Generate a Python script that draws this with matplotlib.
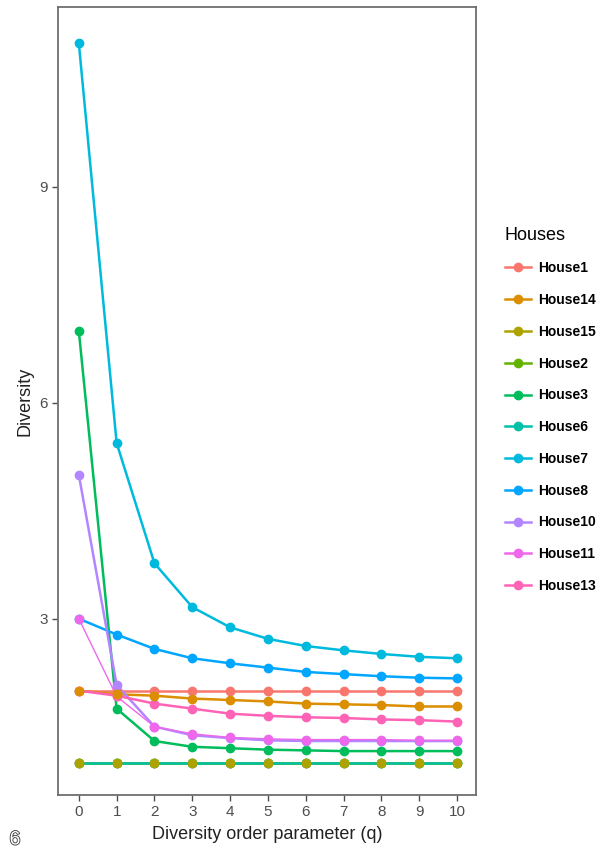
import matplotlib
matplotlib.use("Agg")
import matplotlib.pyplot as plt
from matplotlib.lines import Line2D
import matplotlib.patheffects as pe

plt.rcParams['font.family'] = ['Liberation Sans', 'DejaVu Sans']

q = [0, 1, 2, 3, 4, 5, 6, 7, 8, 9, 10]

houses = ["House1", "House14", "House15", "House2", "House3", "House6",
          "House7", "House8", "House10", "House11", "House13"]
colors = ["#F8766D", "#DB8E00", "#AEA200", "#64B200", "#00BD5C", "#00C1A7",
          "#00BADE", "#00A6FF", "#B385FF", "#EF67EB", "#FF63B6"]

house1 = [2, 2, 2, 2, 2, 2, 2, 2, 2, 2, 2]
house14 = [2, 1.95, 1.93, 1.89, 1.87, 1.85, 1.82, 1.81, 1.80, 1.78, 1.78]
house15 = [1, 1, 1, 1, 1, 1, 1, 1, 1, 1, 1]
house2 = [1, 1, 1, 1, 1, 1, 1, 1, 1, 1, 1]
house3 = [7, 1.75, 1.30, 1.22, 1.20, 1.18, 1.17, 1.16, 1.16, 1.16, 1.16]
house6 = [1, 1, 1, 1, 1, 1, 1, 1, 1, 1, 1]
house7 = [11, 5.44, 3.77, 3.16, 2.88, 2.72, 2.62, 2.56, 2.51, 2.47, 2.45]
house8 = [3, 2.78, 2.58, 2.45, 2.38, 2.32, 2.26, 2.23, 2.20, 2.18, 2.17]
house10 = [5, 2.08, 1.50, 1.38, 1.34, 1.31, 1.30, 1.30, 1.30, 1.30, 1.30]
house11 = [3, 1.92, 1.50, 1.40, 1.35, 1.33, 1.32, 1.32, 1.32, 1.31, 1.31]
house13 = [2, 1.93, 1.82, 1.75, 1.68, 1.65, 1.63, 1.62, 1.60, 1.59, 1.57]

series = [house1, house14, house15, house2, house3, house6,
          house7, house8, house10, house11, house13]

fig = plt.figure(figsize=(6.08, 8.52), dpi=100)
ax = fig.add_axes([58/608, 1-795/852, (476-58)/608, (795-7)/852])

point_z = {"House14": 4.5, "House15": 4.5}
for i, (name, vals, col) in enumerate(zip(houses, series, colors)):
    lw = 1.0 if name == "House11" else 1.8
    ax.plot(q, vals, color=col, lw=lw, zorder=2 + i*0.01, solid_capstyle='round')
for i, (name, vals, col) in enumerate(zip(houses, series, colors)):
    ax.plot(q, vals, color=col, lw=0, marker='o', markersize=6,
            zorder=point_z.get(name, 3 + i*0.01))

ax.set_xlim(-0.55, 10.5)
ax.set_ylim(0.55, 11.5)
ax.set_xticks(q)
ax.set_yticks([3, 6, 9])
for s in ax.spines.values():
    s.set_color('#6e6e6e')
    s.set_linewidth(1.3)
ax.tick_params(colors='#4D4D4D', labelsize=11, length=4, width=1)
ax.set_xlabel("Diversity order parameter (q)", fontsize=13, color='#222222', labelpad=5)
ax.set_ylabel("Diversity", fontsize=13, color='#222222', labelpad=4)

handles = [Line2D([0], [0], color=c, lw=1.8, marker='o', markersize=6) for c in colors]
leg = fig.legend(handles, houses, title="Houses", loc='upper left',
                 bbox_to_anchor=(492/608, 1-214/852), frameon=False,
                 prop={'weight': 'bold', 'size': 10}, title_fontsize=13,
                 handlelength=1.9, labelspacing=1.28, handletextpad=0.5)
leg._legend_box.align = "left"

fig.text(15/608, 1-840/852, "6", fontsize=14, color='white', ha='center', va='center',
         path_effects=[pe.withStroke(linewidth=1.2, foreground='#333333')])

fig.savefig("out.png", dpi=100)
